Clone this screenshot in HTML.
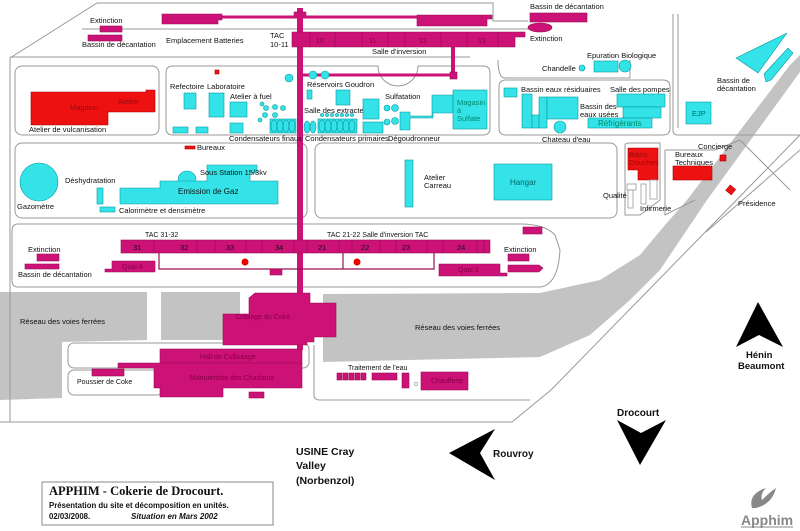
<!DOCTYPE html>
<html><head><meta charset="utf-8"><style>
html,body{margin:0;padding:0;background:#fff;width:800px;height:531px;overflow:hidden}
svg{display:block}
text{font-family:"Liberation Sans",sans-serif;font-size:7.5px;fill:#111}
.m{fill:#cc1177;stroke:#991155;stroke-width:.6}
.c{fill:#33e3e8;stroke:#0a9aa0;stroke-width:.6}
.r{fill:#ee1111;stroke:#aa0000;stroke-width:.6}
.z{fill:none;stroke:#999;stroke-width:1}
.w{fill:#fff;stroke:#999;stroke-width:.8}
.g{fill:#c3c3c3}
.mt{fill:#880044;font-size:7px}
.b{font-weight:bold;font-size:11px}
</style></head><body>
<svg width="800" height="531" viewBox="0 0 800 531">
<!-- gray rails -->
<polygon class="g" points="0,292 147,292 147,340 62,342 62,398 0,400"/>
<rect class="g" x="161" y="292" width="79" height="48"/>
<polygon class="g" points="323,294 540,293 600,280 640,255 665,225 687,200 790,65 800,55 800,72 707,200 660,270 630,300 590,335 540,357 323,362"/>
<!-- site boundary -->
<polyline class="z" points="10,422 10,58 97,3 493,3 493,21 528,21"/>
<polyline class="z" points="0,422 512,422 551,390 800,135"/>
<line class="z" x1="706" y1="232" x2="800" y2="150"/>
<line class="z" x1="82" y1="29" x2="530" y2="29"/>
<line class="z" x1="10" y1="57" x2="470" y2="57"/>
<path class="z" d="M673,14 V130 Q673,135 678,135 H800"/>
<path class="z" d="M678,14 V128"/>
<!-- zones -->
<rect class="z" x="15" y="66" width="144" height="69" rx="7"/>
<path class="z" d="M166,73 Q166,66 173,66 H378 A20,20 0 0 0 418,66 H483 Q490,66 490,73 V128 Q490,135 483,135 H173 Q166,135 166,128 Z"/>
<path class="z" d="M498,60 Q498,78 505,78 H630 V60 M505,80 H663 Q670,80 670,87 V128 Q670,135 663,135 H506 Q499,135 499,128 V87 Q499,80 506,80"/>
<rect class="z" x="15" y="143" width="292" height="75" rx="7"/>
<rect class="z" x="315" y="143" width="302" height="75" rx="7"/>
<path class="z" d="M625,145 Q625,143 630,143 H660 V200 L640,215 H625 Z"/>
<path class="z" d="M665,150 H715 L740,140 L790,190 M695,200 L665,215 V150"/>
<path class="z" d="M18,224 H520 Q545,224 555,235 L560,250 Q558,285 540,287 H18 Q12,287 12,280 V231 Q12,224 18,224 Z"/>
<rect class="z" x="68" y="343" width="241" height="25" rx="6"/>
<rect class="z" x="68" y="370" width="95" height="25" rx="6"/>
<path class="z" d="M314,345 V395 Q314,400 320,400 H530"/>
<!-- pipes -->
<rect x="297" y="8" width="6" height="342" fill="#cc1177"/>
<rect x="294" y="12" width="12" height="6" class="m"/>
<rect x="218" y="15.5" width="200" height="3" fill="#cc1177"/>
<rect x="451" y="47" width="4" height="28" fill="#cc1177"/>
<rect x="303" y="73.5" width="150" height="3" fill="#cc1177"/>
<rect x="450" y="72" width="7" height="7" class="m"/>
<!-- top -->
<polygon class="m" points="162,14 222,14 222,20 218,20 218,24 162,24"/>
<polygon class="m" points="417,15 492,15 492,19 487,19 487,26 417,26"/>
<rect class="m" x="530" y="13" width="57" height="9"/>
<ellipse class="m" cx="540" cy="27.5" rx="12" ry="4.5"/>
<rect class="m" x="100" y="26" width="22" height="6"/>
<rect class="m" x="88" y="35" width="34" height="6"/>
<text x="90" y="23">Extinction</text>
<text x="82" y="47">Bassin de décantation</text>
<text x="166" y="43">Emplacement Batteries</text>
<text x="270" y="38">TAC</text><text x="270" y="47">10-11</text>
<polygon class="m" points="292,32 525,32 525,37 515,37 515,47 292,47"/>
<g stroke="#991155" stroke-width=".7"><line x1="310" y1="32" x2="310" y2="47"/><line x1="335" y1="32" x2="335" y2="47"/><line x1="362" y1="32" x2="362" y2="47"/><line x1="388" y1="32" x2="388" y2="47"/><line x1="405" y1="32" x2="405" y2="47"/><line x1="441" y1="32" x2="441" y2="47"/><line x1="467" y1="32" x2="467" y2="47"/><line x1="498" y1="32" x2="498" y2="47"/></g>
<text class="mt" x="316" y="43">10</text><text class="mt" x="369" y="43">11</text><text class="mt" x="419" y="43">12</text><text class="mt" x="478" y="43">13</text>
<text x="372" y="54">Salle d'inversion</text>
<text x="530" y="9">Bassin de décantation</text>
<text x="530" y="41">Extinction</text>
<!-- zone A -->
<polygon class="r" points="31,92 146,92 146,90 155,90 155,112 108,112 108,125 31,125"/>
<text x="70" y="110" style="fill:#881111">Magasin</text>
<text x="118" y="104" style="fill:#881111">Atelier</text>
<text x="29" y="132">Atelier de vulcanisation</text>
<!-- zone B -->
<rect class="r" x="215" y="70" width="4" height="4"/>
<circle class="c" cx="289" cy="78" r="4"/>
<text x="170" y="89">Refectoire</text><text x="207" y="89">Laboratoire</text>
<rect class="c" x="184" y="93" width="12" height="16"/>
<rect class="c" x="209" y="93" width="15" height="24"/>
<text x="230" y="99">Atelier à fuel</text>
<rect class="c" x="230" y="102" width="17" height="15"/>
<rect class="c" x="230" y="123" width="13" height="10"/>
<rect class="c" x="173" y="127" width="15" height="6"/>
<rect class="c" x="196" y="127" width="12" height="6"/>
<g class="c"><circle cx="262" cy="104" r="2"/><circle cx="266" cy="108" r="2.5"/><circle cx="275" cy="107" r="2.5"/><circle cx="283" cy="108" r="2.5"/><circle cx="265" cy="115" r="2.5"/><circle cx="275" cy="115" r="2.5"/><circle cx="260" cy="120" r="2"/></g>
<rect class="c" x="270" y="119" width="26" height="14"/>
<g fill="none" stroke="#0a9aa0" stroke-width=".6"><ellipse cx="274" cy="126" rx="3" ry="6"/><ellipse cx="280" cy="126" rx="3" ry="6"/><ellipse cx="286" cy="126" rx="3" ry="6"/><ellipse cx="292" cy="126" rx="3" ry="6"/></g>
<ellipse class="c" cx="307" cy="127" rx="3" ry="6"/><ellipse class="c" cx="313" cy="127" rx="3" ry="6"/>
<rect class="c" x="318" y="119" width="39" height="14"/>
<g fill="none" stroke="#0a9aa0" stroke-width=".6"><ellipse cx="322" cy="126" rx="3" ry="6"/><ellipse cx="328" cy="126" rx="3" ry="6"/><ellipse cx="334" cy="126" rx="3" ry="6"/><ellipse cx="340" cy="126" rx="3" ry="6"/><ellipse cx="346" cy="126" rx="3" ry="6"/><ellipse cx="352" cy="126" rx="3" ry="6"/></g>
<g class="c"><circle cx="322" cy="115" r="1.6"/><circle cx="327" cy="115" r="1.6"/><circle cx="332" cy="115" r="1.6"/><circle cx="337" cy="115" r="1.6"/><circle cx="342" cy="115" r="1.6"/><circle cx="347" cy="115" r="1.6"/><circle cx="352" cy="115" r="1.6"/></g>
<circle class="c" cx="313" cy="75" r="4"/><circle class="c" cx="325" cy="75" r="4"/>
<text x="307" y="87">Réservoirs Goudron</text>
<rect class="c" x="307" y="90" width="5" height="9"/>
<rect class="c" x="336" y="90" width="14" height="15"/>
<text x="304" y="113">Salle des extracteurs</text>
<rect class="c" x="363" y="99" width="16" height="20"/>
<rect class="c" x="363" y="122" width="20" height="11"/>
<text x="385" y="99">Sulfatation</text>
<g class="c"><circle cx="387" cy="108" r="3"/><circle cx="395" cy="108" r="3.5"/><circle cx="387" cy="122" r="3"/><circle cx="395" cy="121" r="3.5"/></g>
<polygon class="c" points="432,95 453,95 453,113 433,113 433,118 410,118 410,130 400,130 400,112 410,112 410,116 432,116"/>
<rect class="c" x="453" y="90" width="34" height="39"/>
<text x="457" y="105" style="fill:#086">Magasin</text><text x="457" y="113" style="fill:#086">à</text><text x="457" y="121" style="fill:#086">Sulfate</text>
<text x="229" y="141">Condensateurs finaux</text>
<text x="305" y="141">Condensateurs primaires</text>
<text x="388" y="141">Dégoudronneur</text>
<!-- zone C -->
<text x="542" y="71">Chandelle</text>
<circle class="c" cx="582" cy="68" r="3"/>
<text x="587" y="58">Epuration Biologique</text>
<rect class="c" x="594" y="61" width="24" height="11"/>
<circle class="c" cx="625" cy="66" r="6"/>
<rect class="c" x="504" y="88" width="13" height="9"/>
<text x="521" y="92">Bassin eaux résiduaires</text>
<text x="610" y="92">Salle des pompes</text>
<rect class="c" x="522" y="94" width="10" height="34"/>
<rect class="c" x="532" y="115" width="7" height="13"/>
<rect class="c" x="539" y="97" width="8" height="31"/>
<rect class="c" x="547" y="97" width="31" height="22"/>
<circle class="c" cx="560" cy="127" r="6"/>
<text x="580" y="109">Bassin des</text><text x="580" y="117">eaux usées</text>
<rect class="c" x="617" y="94" width="48" height="13"/>
<rect class="c" x="623" y="107" width="38" height="11"/>
<rect class="c" x="588" y="118" width="64" height="10"/>
<text x="598" y="126" style="fill:#086;font-size:8px">Réfrigérants</text>
<text x="542" y="142">Chateau d'eau</text>
<!-- right -->
<polygon class="c" points="736,58 787,33 758,73"/>
<polygon class="c" points="764,74 788,48 793,53 771,80 766,82"/>
<text x="717" y="83">Bassin de</text><text x="717" y="91">décantation</text>
<rect class="c" x="686" y="102" width="25" height="22"/>
<text x="692" y="116" style="fill:#066">EJP</text>
<polygon class="r" points="628,148 658,148 658,180 638,180 638,170 628,170"/>
<text x="629" y="157" style="fill:#881111">Bains</text><text x="629" y="165" style="fill:#881111">Douches</text>
<text x="675" y="157">Bureaux</text><text x="675" y="165">Techniques</text>
<rect class="r" x="673" y="166" width="39" height="14"/>
<text x="698" y="149">Concierge</text>
<rect class="r" x="720" y="155" width="6" height="6"/>
<rect class="r" x="727" y="186" width="7" height="7" transform="rotate(40 730 190)"/>
<text x="738" y="206">Présidence</text>
<rect class="w" x="627" y="184" width="9" height="6"/><rect class="w" x="628" y="190" width="5" height="18"/>
<rect class="w" x="641" y="184" width="5" height="20"/><rect class="w" x="650" y="180" width="7" height="19"/>
<text x="603" y="198">Qualité</text>
<text x="640" y="211">Infirmerie</text>
<!-- zone D -->
<rect class="r" x="185" y="146" width="10" height="3"/>
<text x="197" y="150">Bureaux</text>
<circle class="c" cx="39" cy="182" r="19"/>
<text x="17" y="209">Gazomètre</text>
<text x="65" y="183">Déshydratation</text>
<rect class="c" x="97" y="188" width="6" height="16"/>
<rect class="c" x="100" y="207" width="15" height="5"/>
<text x="119" y="213">Calorimètre et densimètre</text>
<circle class="c" cx="187" cy="180" r="9"/>
<polygon class="c" points="120,188 160,188 160,181 207,181 207,165 257,165 257,173 250,173 250,181 278,181 278,204 120,204"/>
<text x="200" y="175">Sous Station 15/3kv</text>
<text x="178" y="194" style="font-size:8px">Emission de Gaz</text>
<!-- zone E -->
<rect class="c" x="405" y="160" width="8" height="47"/>
<text x="424" y="180">Atelier</text><text x="424" y="188">Carreau</text>
<rect class="c" x="494" y="164" width="58" height="36"/>
<text x="510" y="185" style="fill:#066;font-size:8px">Hangar</text>
<!-- zone F -->
<text x="145" y="237" style="font-size:7px">TAC 31-32</text>
<text x="327" y="237" style="font-size:7px">TAC 21-22  Salle d'inversion  TAC</text>
<rect class="m" x="121" y="240" width="369" height="13"/>
<g stroke="#991155" stroke-width=".7"><line x1="154" y1="240" x2="154" y2="253"/><line x1="197" y1="240" x2="197" y2="253"/><line x1="215" y1="240" x2="215" y2="253"/><line x1="246" y1="240" x2="246" y2="253"/><line x1="262" y1="240" x2="262" y2="253"/><line x1="294" y1="240" x2="294" y2="253"/><line x1="307" y1="240" x2="307" y2="253"/><line x1="339" y1="240" x2="339" y2="253"/><line x1="352" y1="240" x2="352" y2="253"/><line x1="380" y1="240" x2="380" y2="253"/><line x1="396" y1="240" x2="396" y2="253"/><line x1="427" y1="240" x2="427" y2="253"/><line x1="443" y1="240" x2="443" y2="253"/><line x1="477" y1="240" x2="477" y2="253"/><line x1="484" y1="240" x2="484" y2="253"/></g>
<g class="mt"><text x="133" y="250">31</text><text x="180" y="250">32</text><text x="226" y="250">33</text><text x="275" y="250">34</text><text x="318" y="250">21</text><text x="361" y="250">22</text><text x="402" y="250">23</text><text x="457" y="250">24</text></g>
<g stroke="#991155" stroke-width="1.2" fill="none"><polyline points="159,253 159,269 434,269 434,253"/><line x1="343" y1="253" x2="343" y2="269"/></g>
<circle cx="245" cy="262" r="3.5" fill="#e00"/><circle cx="357" cy="262" r="3.5" fill="#e00"/>
<polygon class="m" points="112,261 155,261 155,272 105,272 105,269 112,269"/>
<text x="122" y="269" class="mt">Quai 4</text>
<rect class="m" x="270" y="269" width="12" height="6"/>
<polygon class="m" points="439,264 500,264 500,273 507,273 507,276 439,276"/>
<text x="458" y="272" class="mt">Quai 3</text>
<text x="28" y="252">Extinction</text>
<rect class="m" x="37" y="254" width="22" height="7"/>
<rect class="m" x="25" y="264" width="34" height="5"/>
<text x="18" y="277">Bassin de décantation</text>
<text x="504" y="252">Extinction</text>
<rect class="m" x="508" y="254" width="21" height="7"/>
<polygon class="m" points="508,265 539,265 543,268 539,272 508,272"/>
<rect class="m" x="523" y="227" width="19" height="7"/>
<!-- south -->
<text x="20" y="324">Réseau des voies ferrées</text>
<text x="415" y="330">Réseau des voies ferrées</text>
<polygon class="m" points="249,298 255,293 310,293 310,303 336,303 336,337 314,337 314,342 307,342 307,345 223,345 223,314 249,314"/>
<text x="236" y="319" class="mt">Cribiage du Coke</text>
<rect class="m" x="160" y="349" width="142" height="14"/>
<text x="200" y="359" class="mt">Hall de Culbutage</text>
<polygon class="m" points="118,363 302,363 302,388 223,388 223,397 160,397 160,388 154,388 154,368 118,368"/>
<rect class="m" x="92" y="369" width="32" height="7"/>
<text x="190" y="380" class="mt">Manutention des Charbons</text>
<text x="77" y="384" style="font-size:7px">Poussier de Coke</text>
<rect class="m" x="249" y="392" width="15" height="6"/>
<text x="348" y="370" style="font-size:7px">Traitement de l'eau</text>
<g class="m"><rect x="337" y="373" width="5" height="7"/><rect x="343" y="373" width="5" height="7"/><rect x="349" y="373" width="5" height="7"/><rect x="355" y="373" width="5" height="7"/><rect x="361" y="373" width="5" height="7"/></g>
<rect class="m" x="372" y="373" width="25" height="7"/>
<rect class="m" x="402" y="373" width="7" height="15"/>
<circle cx="416" cy="384" r="1.8" fill="none" stroke="#888" stroke-width=".6"/>
<rect class="m" x="421" y="372" width="47" height="18"/>
<text x="431" y="383" class="mt">Chaufferie</text>
<!-- arrows -->
<polygon points="758,302 783,347 759,335 736,347" fill="#000"/>
<text x="746" y="358" style="font-weight:bold;font-size:9.5px">Hénin</text>
<text x="738" y="369" style="font-weight:bold;font-size:9.5px">Beaumont</text>
<text x="617" y="416" style="font-weight:bold;font-size:10px">Drocourt</text>
<polygon points="617,420 641,433 666,420 640,465" fill="#000"/>
<polygon points="449,453 495,429 480,453 495,480" fill="#000"/>
<text x="493" y="457" style="font-weight:bold;font-size:10px">Rouvroy</text>
<text x="296" y="455" style="font-weight:bold;font-size:10.5px">USINE Cray</text>
<text x="296" y="469" style="font-weight:bold;font-size:10.5px">Valley</text>
<text x="296" y="484" style="font-weight:bold;font-size:10.5px">(Norbenzol)</text>
<rect x="42" y="482" width="231" height="43" fill="#fff" stroke="#888" stroke-width="1"/>
<text x="49" y="495" style="font-family:'Liberation Serif',serif;font-weight:bold;font-size:12.5px">APPHIM - Cokerie de Drocourt.</text>
<text x="49" y="508" style="font-weight:bold;font-size:7.8px">Présentation du site et décomposition en unités.</text>
<text x="49" y="519" style="font-weight:bold;font-size:7.8px">02/03/2008.</text>
<text x="131" y="519" style="font-weight:bold;font-style:italic;font-size:8px">Situation en Mars 2002</text>
<!-- logo -->
<path d="M752,508 Q748,494 766,488 Q760,494 762,500 Q770,492 776,488 Q772,504 756,508 Z" fill="#888"/>
<text x="741" y="525" style="font-weight:bold;font-size:14px;fill:#888">Apphim</text>
<line x1="741" y1="527" x2="793" y2="527" stroke="#888" stroke-width="1"/>
</svg>
</body></html>
